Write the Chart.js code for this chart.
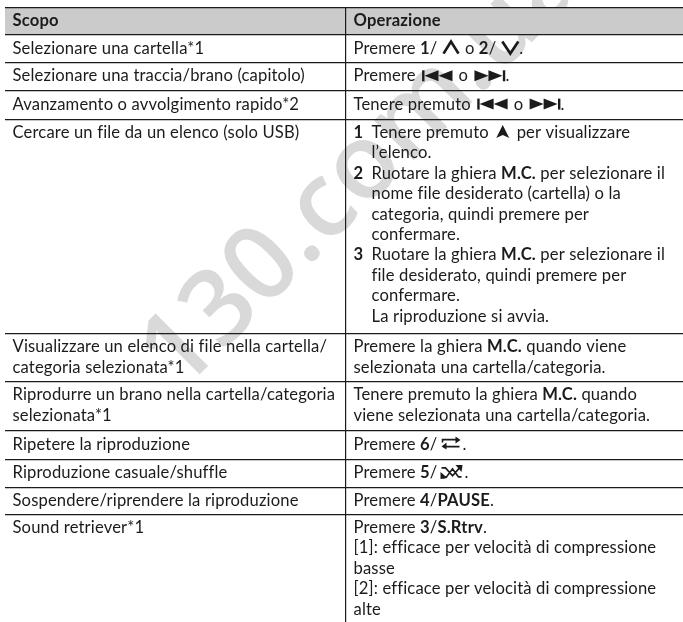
<!DOCTYPE html>
<html lang="it"><head><meta charset="utf-8">
<style>html,body{margin:0;padding:0;background:#fff}#w{width:683px;height:622px;position:relative}canvas{display:block}</style>
<script src="https://cdn.jsdelivr.net/npm/chart.js@4"></script></head>
<body><div id="w"><canvas id="c" width="683" height="622"></canvas></div>
<script>
const headers = ["Scopo", "Operazione"];
const rowEdges = [7.3, 35, 62.7, 91, 119.3, 333.5, 381.7, 431, 459.3, 487.3, 514.3, 622];
const columnEdges = [345.7];
const scopo = [
  ["Selezionare una cartella*1"],
  ["Selezionare una traccia/brano (capitolo)"],
  ["Avanzamento o avvolgimento rapido*2"],
  ["Cercare un file da un elenco (solo USB)"],
  ["Visualizzare un elenco di file nella cartella/", "categoria selezionata*1"],
  ["Riprodurre un brano nella cartella/categoria", "selezionata*1"],
  ["Ripetere la riproduzione"],
  ["Riproduzione casuale/shuffle"],
  ["Sospendere/riprendere la riproduzione"],
  ["Sound retriever*1"]
];
const operazione = [
  ["Premere **1**/{up} o **2**/{down}."],
  ["Premere {prev} o {next}."],
  ["Tenere premuto {prev} o {next}."],
  ["#1 Tenere premuto {arrow} per visualizzare", "~l’elenco.",
   "#2 Ruotare la ghiera **M.C.** per selezionare il", "~nome file desiderato (cartella) o la", "~categoria, quindi premere per", "~confermare.",
   "#3 Ruotare la ghiera **M.C.** per selezionare il", "~file desiderato, quindi premere per", "~confermare.", "~La riproduzione si avvia."],
  ["Premere la ghiera **M.C.** quando viene", "selezionata una cartella/categoria."],
  ["Tenere premuto la ghiera **M.C.** quando", "viene selezionata una cartella/categoria."],
  ["Premere **6**/{repeat}."],
  ["Premere **5**/{shuffle}."],
  ["Premere **4**/**PAUSE**."],
  ["Premere **3**/**S.Rtrv**.", "[1]: efficace per velocità di compressione", "basse", "[2]: efficace per velocità di compressione", "alte"]
];
const watermark = "130.com.ua";

const FONT = 'Lato', SIZE = 16.6, LH = 20.4, INK = '#1b1b1b';
const icons = {
  up(c,x,b){x+=5;c.lineWidth=2.7;c.beginPath();c.moveTo(x+1,b);c.lineTo(x+8.5,b-12);c.lineTo(x+16,b);c.stroke();return 23;},
  down(c,x,b){x+=5;c.lineWidth=2.7;c.beginPath();c.moveTo(x+1,b-12);c.lineTo(x+9,b);c.lineTo(x+17,b-12);c.stroke();return 23;},
  prev(c,x,b){x+=2;c.fillRect(x,b-11,2.4,11);[2.4,16.4].forEach(d=>{c.beginPath();c.moveTo(x+d,b-5.5);c.lineTo(x+d+14,b-11);c.lineTo(x+d+14,b);c.fill();});return 34;},
  next(c,x,b){x+=2;c.fillRect(x+28.4,b-11,2.4,11);[0,14].forEach(d=>{c.beginPath();c.moveTo(x+d,b-11);c.lineTo(x+d+14,b-5.5);c.lineTo(x+d,b);c.fill();});return 33;},
  arrow(c,x,b){x+=3;c.beginPath();c.moveTo(x+6.5,b-13);c.lineTo(x+13,b);c.lineTo(x+6.5,b-3);c.lineTo(x,b);c.fill();return 19;},
  repeat(c,x,b){x+=3;c.lineWidth=1.6;c.beginPath();c.moveTo(x+2,b-7);c.lineTo(x+2,b-10);c.lineTo(x+18,b-10);c.moveTo(x+19,b-3);c.lineTo(x+3,b-3);c.stroke();
    c.beginPath();c.moveTo(x+15,b-13);c.lineTo(x+20,b-9.5);c.lineTo(x+15,b-6);c.fill();c.beginPath();c.moveTo(x+6,b-7);c.lineTo(x+1,b-3);c.lineTo(x+6,b);c.fill();return 25;},
  shuffle(c,x,b){x+=3;c.lineWidth=1.6;c.beginPath();c.moveTo(x+1,b-10);c.lineTo(x+5,b-10);c.lineTo(x+12,b-2);c.lineTo(x+19,b-10);c.moveTo(x+2,b);c.lineTo(x+6,b-1);c.lineTo(x+12,b-9);c.lineTo(x+18,b-1);c.lineTo(x+21,b-1);c.stroke();
    c.beginPath();c.moveTo(x+15,b-13);c.lineTo(x+22,b-13);c.lineTo(x+21,b-6);c.fill();c.beginPath();c.moveTo(x,b-6);c.lineTo(x+7,b);c.lineTo(x,b+1);c.fill();return 27;}
};
function drawRich(c, str, x, b){
  const parts = str.split(/(\*\*.*?\*\*|\{\w+\})/).filter(Boolean);
  for(const p of parts){
    let m;
    if((m=p.match(/^\{(\w+)\}$/))){ x += icons[m[1]](c,x,b); continue; }
    const bold = p.startsWith('**');
    const t = bold ? p.slice(2,-2) : p;
    c.font = (bold?'700 ':'400 ')+SIZE+'px '+FONT;
    c.fillText(t,x,b);
    x += c.measureText(t).width;
  }
}
const tablePlugin = {
  id:'tablePlugin',
  beforeDatasetsDraw(chart){
    const c=chart.ctx, {x:sx,y:sy}=chart.scales;
    c.save();
    c.font='600 104px "Open Sans"';c.fillStyle='#d9d9d9';
    c.translate(sx.getPixelForValue(180),sy.getPixelForValue(394));c.rotate(-Math.PI/4);
    c.fillText(watermark,0,0);
    c.restore();
  },
  afterDraw(chart){
    const c=chart.ctx,{x:sx,y:sy}=chart.scales;
    c.save();
    c.fillStyle=INK;c.strokeStyle=INK;c.textBaseline='alphabetic';c.lineJoin='miter';
    c.letterSpacing='0.15px';
    const L=sx.getPixelForValue(12.5), R=sx.getPixelForValue(353.5);
    c.font='700 '+SIZE+'px '+FONT;
    c.fillText(headers[0],L,sy.getPixelForValue(26));c.fillText(headers[1],R,sy.getPixelForValue(26));
    scopo.forEach((lines,i)=>{
      const top=sy.getPixelForValue(rowEdges[i+1]);
      lines.forEach((t,k)=>drawRich(c,t,L,top+18.6+k*LH));
      operazione[i].forEach((t,k)=>{
        const b=top+18.6+k*LH;
        if(t[0]==='#'){ drawRich(c,'**'+t[1]+'**',R,b); drawRich(c,t.slice(3),R+18,b); }
        else if(t[0]==='~'){ drawRich(c,t.slice(1),R+18,b); }
        else drawRich(c,t,R,b);
      });
    });
    c.restore();
  }
};
new Chart(document.getElementById('c'),{
  type:'scatter',
  data:{datasets:[{
    data:[{x:5,y:rowEdges[1]},{x:683,y:rowEdges[1]}],
    showLine:true,pointRadius:0,borderWidth:0,backgroundColor:'#cbcbcb',fill:'end'
  }]},
  plugins:[tablePlugin],
  options:{
    responsive:false,animation:false,
    layout:{padding:{left:5,right:0,top:7.3,bottom:0}},
    plugins:{legend:{display:false},tooltip:{enabled:false}},
    scales:{
      x:{type:'linear',min:5,max:683,display:true,border:{display:false},
         afterBuildTicks(a){a.ticks=columnEdges.map(v=>({value:v}));},
         ticks:{display:false},grid:{color:'#1b1b1b',lineWidth:1.2,drawTicks:false,z:1}},
      y:{type:'linear',reverse:true,min:7.3,max:622,display:true,border:{display:false},
         afterBuildTicks(a){a.ticks=rowEdges.slice(0,-1).map(v=>({value:v}));},
         ticks:{display:false},grid:{color:'#1b1b1b',lineWidth:1.2,drawTicks:false,z:1}}
    }
  }
});
</script></body></html>
